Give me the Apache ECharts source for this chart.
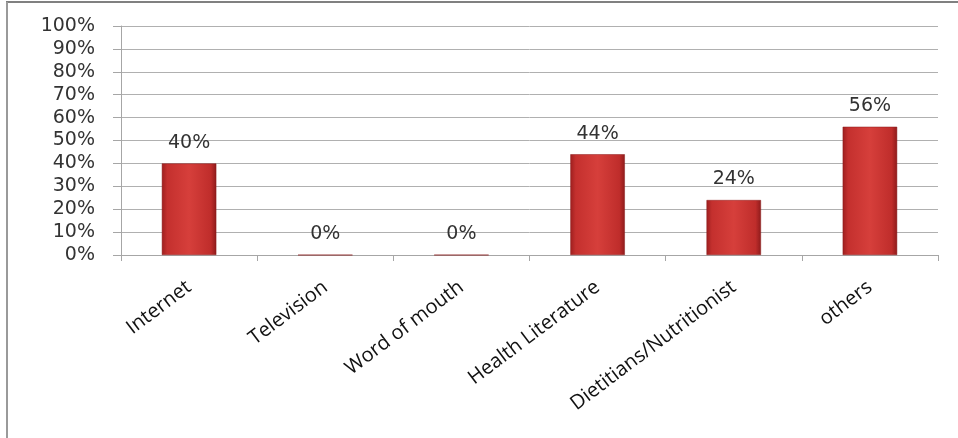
<!DOCTYPE html>
<html>
<head>
<meta charset="utf-8">
<script src="https://cdn.jsdelivr.net/npm/echarts@6/dist/echarts.min.js"></script>
<style>
html,body{margin:0;padding:0;background:#fff;}
#chart{width:958px;height:438px;}
</style>
</head>
<body>
<div id="chart"></div>
<script>
const categories = ["Internet", "Television", "Word of mouth", "Health Literature", "Dietitians/Nutritionist", "others"];
const values = [40, 0, 0, 44, 24, 56];
const yTicks = [0, 10, 20, 30, 40, 50, 60, 70, 80, 90, 100];

const chart = echarts.init(document.getElementById('chart'));
const barColor = new echarts.graphic.LinearGradient(0, 0, 1, 0, [
  {offset: 0, color: '#9e1f1f'},
  {offset: 0.1, color: '#c4302e'},
  {offset: 0.5, color: '#d63f3b'},
  {offset: 0.9, color: '#bf2d2b'},
  {offset: 1, color: '#8e1b1b'}
]);
chart.setOption({
  backgroundColor: '#ffffff',
  animation: false,
  graphic: [
    {type: 'line', shape: {x1: 6, y1: 2, x2: 958, y2: 2}, style: {stroke: '#808080', lineWidth: 2}},
    {type: 'line', shape: {x1: 7, y1: 2, x2: 7, y2: 438}, style: {stroke: '#9a9a9a', lineWidth: 2}}
  ],
  grid: {left: 121, right: 20, top: 26, bottom: 183, containLabel: false},
  xAxis: {
    type: 'category',
    data: categories,
    boundaryGap: true,
    axisLine: {lineStyle: {color: '#a6a6a6', width: 1}},
    axisTick: {show: true, alignWithLabel: false, length: 6, lineStyle: {color: '#a6a6a6'}},
    axisLabel: {
      rotate: 37, interval: 0, margin: 30,
      fontFamily: '"Open Sans", Lato, sans-serif', fontSize: 20, color: '#111'
    }
  },
  yAxis: {
    type: 'value',
    min: yTicks[0], max: yTicks[yTicks.length - 1], interval: 10,
    axisLine: {show: true, lineStyle: {color: '#a6a6a6'}},
    axisTick: {show: true, length: 8, lineStyle: {color: '#a6a6a6'}},
    splitLine: {lineStyle: {color: '#b0b0b0', width: 1}},
    axisLabel: {
      formatter: v => v + '%', margin: 26,
      fontFamily: '"DejaVu Sans", sans-serif', fontSize: 19, color: '#333'
    }
  },
  series: [{
    type: 'bar',
    data: values,
    barWidth: '40%',
    itemStyle: {color: barColor, borderColor: '#8a1a1a', borderWidth: 0.5},
    label: {
      show: true, position: 'top', distance: 11,
      formatter: p => p.value + '%',
      fontFamily: '"DejaVu Sans", sans-serif', fontSize: 19, color: '#333'
    }
  }]
});
</script>
</body>
</html>
